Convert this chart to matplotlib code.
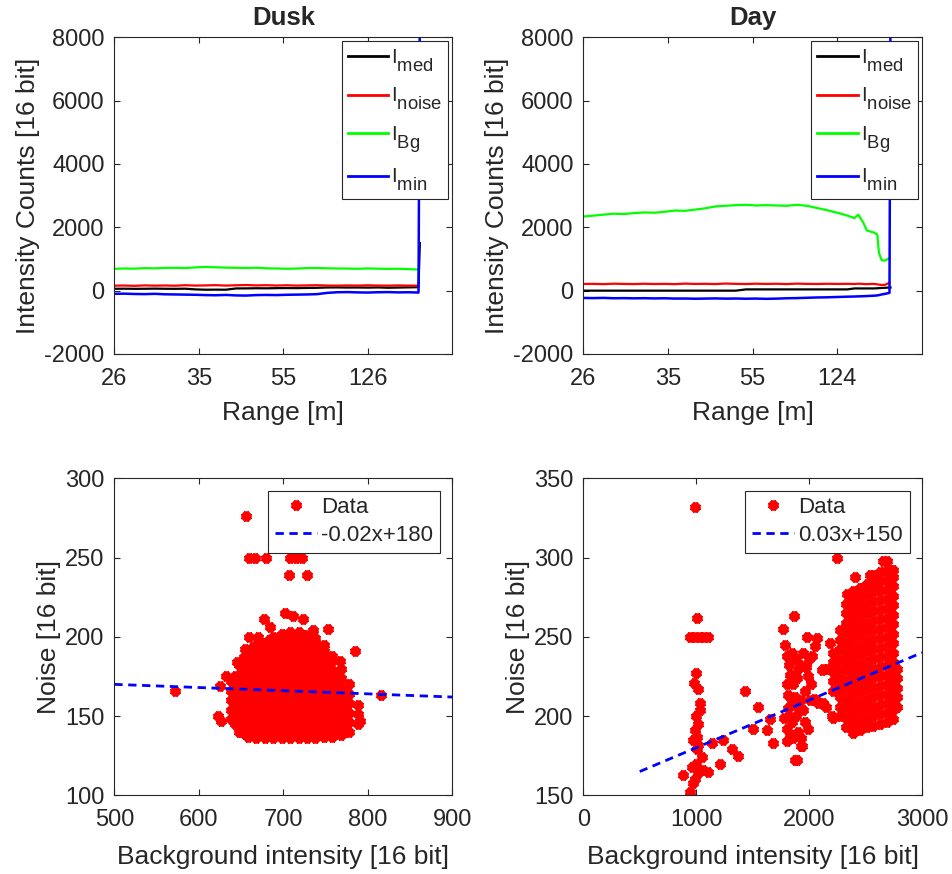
import matplotlib
matplotlib.use('Agg')
import matplotlib.pyplot as plt

try:
    # MATLAB-style subscripts: bigger and lower than matplotlib's default
    import matplotlib._mathtext as _mt
    _mt.SHRINK_FACTOR = 0.92
    _mt.FontConstantsBase.sub1 = 0.75
except Exception:
    pass

plt.rcParams['font.family'] = ['Liberation Sans', 'DejaVu Sans']
plt.rcParams['mathtext.fontset'] = 'custom'
plt.rcParams['mathtext.rm'] = 'Liberation Sans'
plt.rcParams['axes.unicode_minus'] = False
plt.rcParams['text.color'] = '#262626'
plt.rcParams['axes.labelcolor'] = '#262626'
plt.rcParams['xtick.color'] = '#262626'
plt.rcParams['ytick.color'] = '#262626'

# ---- top row: intensity profiles (x = sample index, labelled with range) ----
dusk_idx = list(range(0, 901, 30))
dusk_med = [60, 62, 58, 60, 64, 60, 58, 62, 40, 30, 32, 30, 70, 72, 76, 74,
            80, 82, 80, 86, 90, 100, 102, 98, 100, 96, 102, 92, 98, 104, 110]
dusk_noise = [158, 162, 152, 166, 158, 164, 156, 172, 160, 166, 174, 160, 170, 178, 166, 172,
              162, 170, 160, 166, 172, 162, 158, 166, 160, 170, 162, 158, 166, 160, 156]
dusk_bg = [690, 700, 695, 712, 705, 718, 722, 714, 735, 748, 738, 728, 722, 716, 724, 706,
           700, 692, 698, 712, 716, 706, 700, 698, 690, 702, 694, 688, 692, 680, 668]
dusk_min = [-100, -95, -105, -110, -100, -115, -120, -125, -130, -140, -145, -135, -150, -155, -140, -135,
            -140, -130, -125, -120, -110, -70, -50, -45, -55, -60, -50, -45, -55, -50, -60]
dusk_tail_idx = 904
dusk_tail_med = 1500
dusk_tail_min = 9000
dusk_ticklabels = ['26', '35', '55', '126']

day_idx = list(range(0, 781, 30)) + [800, 812, 827, 837, 857, 868, 873, 881, 891, 904]
day_med = [0, 0, 0, 0, 0, 0, 0, 0, 0, 0, 0, 0, 0, 0, 0, 0, 40, 40, 40, 40, 40, 40,
           40, 40, 40, 40, 40, 70, 70, 70, 70, 70, 75, 80, 85, 90, 100]
day_noise = [210, 215, 205, 220, 212, 208, 218, 210, 214, 206, 222, 212, 216, 208, 225, 214,
             210, 220, 212, 218, 208, 222, 214, 210, 218, 212, 216, 210, 220, 212, 205, 215,
             200, 190, 180, 185, 250]
day_bg = [2340, 2370, 2400, 2430, 2420, 2450, 2470, 2460, 2490, 2530, 2520, 2560, 2600, 2660,
          2680, 2700, 2710, 2690, 2700, 2690, 2680, 2710, 2680, 2610, 2540, 2460, 2370,
          2290, 2400, 2140, 1900, 1840, 1770, 1190, 960, 950, 1030]
day_min = [-230, -235, -228, -240, -236, -242, -238, -245, -240, -250, -248, -255, -250, -245,
           -252, -248, -255, -250, -258, -252, -240, -235, -225, -215, -210, -200, -190,
           -185, -180, -175, -170, -160, -150, -140, -120, -100, -70]
day_tail_idx = 907
day_tail_min = 9000
day_ticklabels = ['26', '35', '55', '124']

# ---- bottom row: noise vs background scatter ----
dusk_pts_x = [656, 660, 666, 680, 708, 715, 722, 707, 728, 702, 712, 723, 677, 684, 696,
              735, 753, 785, 767, 670, 660, 655, 625, 572, 816, 623, 626, 791, 650, 632, 645]
dusk_pts_y = [276, 250, 250, 250, 250, 250, 250, 239, 239, 215, 213, 211, 211, 206, 200,
              204, 205, 191, 185, 200, 200, 192, 169, 166, 163, 150, 147, 147, 140, 175, 184]
dusk_core_x = [638, 648, 658, 668, 678, 688, 698, 708, 718, 728, 738, 748, 758, 768, 778, 788,
               643, 653, 663, 673, 683, 693, 703, 713, 723, 733, 743, 753, 763, 773]
dusk_core_y = [
    [148, 154, 160, 166, 172],
    [140, 146, 152, 158, 164, 170, 176, 182],
    [137, 143, 149, 155, 161, 167, 173, 179, 185, 190],
    [136, 142, 148, 154, 160, 166, 172, 178, 184, 190, 195],
    [136, 142, 148, 154, 160, 166, 172, 178, 184, 190, 196],
    [136, 142, 148, 154, 160, 166, 172, 178, 184, 190, 196, 200],
    [136, 142, 148, 154, 160, 166, 172, 178, 184, 190, 196, 202],
    [136, 142, 148, 154, 160, 166, 172, 178, 184, 190, 196, 203],
    [136, 142, 148, 154, 160, 166, 172, 178, 184, 190, 196, 203],
    [136, 142, 148, 154, 160, 166, 172, 178, 184, 190, 196, 201],
    [136, 142, 148, 154, 160, 166, 172, 178, 184, 190, 196, 199],
    [137, 143, 149, 155, 161, 167, 173, 179, 185, 191, 195],
    [137, 143, 149, 155, 161, 167, 173, 179, 185, 188],
    [138, 144, 150, 156, 162, 168, 174, 180],
    [140, 146, 152, 158, 164, 170],
    [145, 151, 157],
    [145, 151, 157, 163, 169, 175],
    [139, 145, 151, 157, 163, 169, 175, 181, 187],
    [139, 145, 151, 157, 163, 169, 175, 181, 187, 193],
    [139, 145, 151, 157, 163, 169, 175, 181, 187, 193],
    [139, 145, 151, 157, 163, 169, 175, 181, 187, 193, 198],
    [139, 145, 151, 157, 163, 169, 175, 181, 187, 193, 199],
    [139, 145, 151, 157, 163, 169, 175, 181, 187, 193, 199],
    [139, 145, 151, 157, 163, 169, 175, 181, 187, 193, 199],
    [139, 145, 151, 157, 163, 169, 175, 181, 187, 193, 199],
    [139, 145, 151, 157, 163, 169, 175, 181, 187, 193],
    [140, 146, 152, 158, 164, 170, 176, 182, 188, 193],
    [140, 146, 152, 158, 164, 170, 176, 182, 187],
    [141, 147, 153, 159, 165, 171, 177],
    [143, 149, 155, 161, 167],
]
dusk_fit_x = [500, 900]
dusk_fit_y = [170, 162]
dusk_fit_label = '-0.02x+180'

day_pts_x = [989, 1010, 945, 985, 1025, 1065, 1105, 998, 983, 1019, 1034, 1030,
             1020, 990, 975, 1005, 1048, 960, 1020, 975, 945, 1000, 1010, 995, 985, 1015,
             886, 1105, 1060, 1210, 1137, 1240, 1314, 1373, 1432, 1550, 1506, 1624, 1653, 1683,
             1771, 1866, 1875, 1930, 1979, 2067, 2050, 2112, 2185, 2200, 2244,
             1790, 1800, 1820, 1850, 1880, 1900, 1835, 1860, 1890, 1920, 1800, 1815, 1845,
             1875, 1900, 1930, 1960, 1950, 1820, 1850, 1880, 1800, 1830, 1860, 1800, 1900,
             1930, 1960, 1990, 1940, 1890, 1780, 1810, 1950, 1970, 1990, 2000, 2030, 2020,
             2010, 2060, 2040, 2080, 2120, 2150, 2120, 2170, 2210,
             2333, 2407, 2466, 2540, 2599, 2658, 2687, 2726]
day_pts_y = [332, 262, 250, 250, 250, 250, 250, 227, 221, 217, 208, 204,
             195, 191, 185, 179, 174, 168, 164, 158, 152, 200, 187, 170, 160, 182,
             163, 165, 166, 170, 183, 185, 179, 175, 216, 206, 192, 191, 198, 183,
             255, 263, 172, 181, 250, 249, 244, 229, 246, 200, 300,
             245, 238, 232, 240, 236, 230, 226, 220, 224, 232, 220, 213, 208,
             212, 206, 210, 216, 204, 200, 196, 200, 192, 188, 186, 184, 190,
             186, 196, 192, 181, 172, 199, 205, 240, 231, 225, 236, 238, 220,
             210, 210, 211, 208, 208, 206, 230, 230, 199,
             277, 288, 281, 289, 280, 298, 291, 292]
day_core_x = [2210, 2270, 2330, 2390, 2450, 2510, 2570, 2630, 2690, 2740, 2775]
day_core_y = [
    [216, 222, 228, 234, 240],
    [200, 206, 212, 218, 224, 230, 236, 242, 248, 254],
    [193, 199, 205, 211, 217, 223, 229, 235, 241, 247, 253, 259, 265, 271],
    [189, 195, 201, 207, 213, 219, 225, 231, 237, 243, 249, 255, 261, 267, 273, 279],
    [191, 197, 203, 209, 215, 221, 227, 233, 239, 245, 251, 257, 263, 269, 275, 281],
    [193, 199, 205, 211, 217, 223, 229, 235, 241, 247, 253, 259, 265, 271, 277, 283],
    [194, 200, 206, 212, 218, 224, 230, 236, 242, 248, 254, 260, 266, 272, 278, 284, 289],
    [195, 201, 207, 213, 219, 225, 231, 237, 243, 249, 255, 261, 267, 273, 279, 285, 291],
    [196, 202, 208, 214, 220, 226, 232, 238, 244, 250, 256, 262, 268, 274, 280, 286, 292, 298],
    [198, 204, 210, 216, 222, 228, 234, 240, 246, 252, 258, 264, 270, 276, 282, 288, 292],
    [206, 212, 218, 224, 230],
]
day_fit_x = [500, 3000]
day_fit_y = [165, 240]
day_fit_label = '0.03x+150'

TICK_FS = 17
LABEL_FS = 19
TITLE_FS = 18.5
LEGEND_FS = 16
PROFILE_LEGEND_FS = 14.5


def style_axes(ax):
    for sp in ax.spines.values():
        sp.set_color('#262626')
        sp.set_linewidth(0.8)
    ax.tick_params(direction='in', top=True, right=True, length=4,
                   width=0.8, labelsize=TICK_FS)
    ax.tick_params(axis='x', pad=10)
    ax.tick_params(axis='y', pad=7)


def draw_profile(ax, idx, med, noise, bg, mn, tail_idx, tail_med, tail_min, ticklabels, title):
    ax.plot(idx + [tail_idx], med + [tail_med], color='black', lw=1.6,
            label=r'$\mathregular{I_{med}}$')
    ax.plot(idx, noise, color='red', lw=1.6, label=r'$\mathregular{I_{noise}}$')
    ax.plot(idx, bg, color='#00ff00', lw=1.6, label=r'$\mathregular{I_{Bg}}$')
    ax.plot(idx + [tail_idx], mn + [tail_min], color='blue', lw=1.8,
            label=r'$\mathregular{I_{min}}$')
    ax.set_xlim(0, 1000)
    ax.set_ylim(-2000, 8000)
    ax.set_xticks([0, 250, 500, 750])
    ax.set_xticklabels(ticklabels)
    ax.set_yticks([-2000, 0, 2000, 4000, 6000, 8000])
    ax.set_xlabel('Range [m]', fontsize=LABEL_FS, labelpad=8)
    ax.set_ylabel('Intensity Counts [16 bit]', fontsize=LABEL_FS, labelpad=3)
    ax.set_title(title, fontsize=TITLE_FS, fontweight='bold', pad=9)
    leg = ax.legend(loc='upper right', fontsize=PROFILE_LEGEND_FS, handlelength=2.0,
                    labelspacing=0.6, borderaxespad=0.2, fancybox=False,
                    framealpha=1, edgecolor='#262626', handletextpad=0.15,
                    borderpad=0.3)
    leg.get_frame().set_linewidth(0.8)
    for line in leg.get_lines():
        line.set_linewidth(2)
    style_axes(ax)


def draw_scatter(ax, pts_x, pts_y, core_x, core_y, fit_x, fit_y, fit_label,
                 xlim, xticks, ylim, yticks):
    xs = list(pts_x)
    ys = list(pts_y)
    for cx, col in zip(core_x, core_y):
        xs += [cx] * len(col)
        ys += col
    ax.plot(xs, ys, linestyle='none', marker=(8, 2, 0), ms=7, mew=3.4,
            color='red', label='Data')
    ax.plot(fit_x, fit_y, linestyle='--', dashes=(3, 2), color='blue', lw=2,
            label=fit_label)
    ax.set_xlim(*xlim)
    ax.set_ylim(*ylim)
    ax.set_xticks(xticks)
    ax.set_yticks(yticks)
    ax.set_xlabel('Background intensity [16 bit]', fontsize=LABEL_FS, labelpad=10)
    ax.set_ylabel('Noise [16 bit]', fontsize=LABEL_FS, labelpad=3)
    leg = ax.legend(loc='upper right', fontsize=LEGEND_FS, handlelength=1.9,
                    borderaxespad=0.55, fancybox=False, framealpha=1,
                    edgecolor='#262626', handletextpad=0.2, labelspacing=0.3,
                    borderpad=0.3)
    leg.get_frame().set_linewidth(0.8)
    style_axes(ax)


fig = plt.figure(figsize=(9.52, 8.74), dpi=100)
W, H = 952.0, 874.0
ax_tl = fig.add_axes([114.3 / W, 1 - 354 / H, 338 / W, 316.7 / H])
ax_tr = fig.add_axes([583.3 / W, 1 - 354 / H, 338.7 / W, 316.7 / H])
ax_bl = fig.add_axes([114.3 / W, 1 - 795.3 / H, 338 / W, 317 / H])
ax_br = fig.add_axes([583.3 / W, 1 - 795.3 / H, 338.7 / W, 317 / H])

draw_profile(ax_tl, dusk_idx, dusk_med, dusk_noise, dusk_bg, dusk_min,
             dusk_tail_idx, dusk_tail_med, dusk_tail_min, dusk_ticklabels, 'Dusk')
draw_profile(ax_tr, day_idx, day_med, day_noise, day_bg, day_min,
             day_tail_idx, day_med[-1], day_tail_min, day_ticklabels, 'Day')

draw_scatter(ax_bl, dusk_pts_x, dusk_pts_y, dusk_core_x, dusk_core_y,
             dusk_fit_x, dusk_fit_y, dusk_fit_label,
             (500, 900), [500, 600, 700, 800, 900], (100, 300), [100, 150, 200, 250, 300])
draw_scatter(ax_br, day_pts_x, day_pts_y, day_core_x, day_core_y,
             day_fit_x, day_fit_y, day_fit_label,
             (0, 3000), [0, 1000, 2000, 3000], (150, 350), [150, 200, 250, 300, 350])

fig.savefig('out.png', dpi=100)
